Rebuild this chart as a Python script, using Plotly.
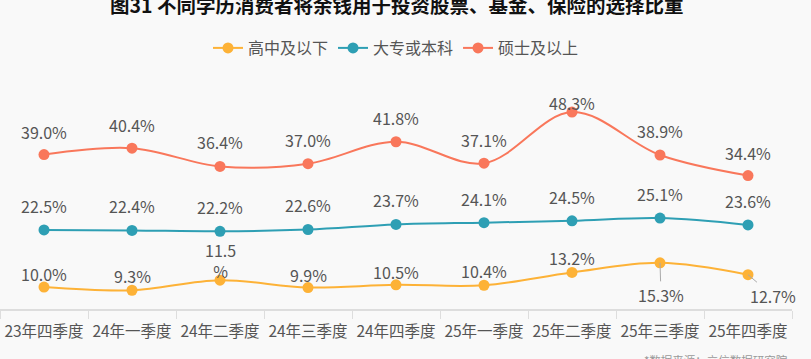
import plotly.graph_objects as go

categories = ["23年四季度", "24年一季度", "24年二季度", "24年三季度", "24年四季度",
              "25年一季度", "25年二季度", "25年三季度", "25年四季度"]
high_school = [10.0, 9.3, 11.5, 9.9, 10.5, 10.4, 13.2, 15.3, 12.7]
college = [22.5, 22.4, 22.2, 22.6, 23.7, 24.1, 24.5, 25.1, 23.6]
master = [39.0, 40.4, 36.4, 37.0, 41.8, 37.1, 48.3, 38.9, 34.4]

series_names = ["高中及以下", "大专或本科", "硕士及以上"]
colors = ["#FDB237", "#2E9FB4", "#F9775B"]

title = "图31 不同学历消费者将余钱用于投资股票、基金、保险的选择比重"
source = "*数据来源：立信数据研究院"

FONT = "Noto Sans CJK SC, Noto Sans, sans-serif"
TXT = "#555555"

fig = go.Figure()
for name, vals, col in zip(series_names, [high_school, college, master], colors):
    fig.add_trace(go.Scatter(
        x=categories, y=vals, name=name, mode="lines+markers",
        line=dict(color=col, width=2, shape="spline", smoothing=1.0),
        marker=dict(color=col, size=11),
        hoverinfo="skip", cliponaxis=False,
    ))

# label offsets (pixels) per point
hs_shift = [13, 14, 0, 13, 13, 14, 14, 0, 0]
col_shift = [24] * 9
ms_shift = [23, 23, 24, 24, 24, 23, 9, 24, 23]

annotations = []
lab_font = dict(family=FONT, size=16, color=TXT)

for i, (c, v) in enumerate(zip(categories, master)):
    annotations.append(dict(x=c, y=v, text=f"{v:.1f}%", showarrow=False,
                            yshift=ms_shift[i], font=lab_font))
for i, (c, v) in enumerate(zip(categories, college)):
    annotations.append(dict(x=c, y=v, text=f"{v:.1f}%", showarrow=False,
                            yshift=col_shift[i], font=lab_font))
for i, (c, v) in enumerate(zip(categories, high_school)):
    txt = f"{v:.1f}%"
    if i == 2:
        annotations.append(dict(x=c, y=v, text=f"{v:.1f}<br>%", showarrow=False,
                                yshift=20, font=lab_font))
    elif i == 7:
        annotations.append(dict(x=c, y=v, text=txt, showarrow=True, arrowhead=0,
                                arrowwidth=1, arrowcolor="#aaaaaa", ax=1, ay=32,
                                font=lab_font, standoff=0))
    elif i == 8:
        annotations.append(dict(x=c, y=v, text=txt, showarrow=True, arrowhead=0,
                                arrowwidth=1, arrowcolor="#aaaaaa", ax=25, ay=21,
                                font=lab_font, standoff=0))
    else:
        annotations.append(dict(x=c, y=v, text=txt, showarrow=False,
                                yshift=hs_shift[i], font=lab_font))

annotations.append(dict(xref="paper", yref="paper", x=0.5, y=1.0, yshift=99,
                        text=f"<b>{title}</b>", showarrow=False, yanchor="middle",
                        font=dict(family=FONT, size=19.5, color="#111111")))
annotations.append(dict(xref="paper", yref="paper", x=0.998, y=0.0, yshift=-41,
                        xanchor="right", yanchor="top", text=source, showarrow=False,
                        font=dict(family=FONT, size=11.5, color="#999999")))

fig.update_layout(
    width=811, height=359,
    margin=dict(l=0, r=19, t=103, b=50, autoexpand=False),
    paper_bgcolor="#F9F9F9", plot_bgcolor="#F9F9F9",
    font=dict(family=FONT, size=16, color=TXT),
    showlegend=True,
    legend=dict(orientation="h", x=0.5, xanchor="center", y=1.0 + 55 / 206, yanchor="middle",
                font=dict(family=FONT, size=16, color=TXT), bgcolor="rgba(0,0,0,0)",
                itemclick=False),
    annotations=annotations,
    hovermode=False,
)
fig.update_xaxes(type="category", range=[-0.5, 8.5], showgrid=False, zeroline=False,
                 showline=True, linecolor="#DDDDDD", linewidth=1.5,
                 ticks="outside", tickson="boundaries", ticklen=8, tickcolor="#DDDDDD",
                 tickangle=0, automargin=False, ticklabelstandoff=8,
                 tickfont=dict(family=FONT, size=15.5, color=TXT))
fig.update_yaxes(visible=False, range=[5.2, 50.28], showgrid=False, zeroline=False)

fig.write_html("out.html", config={"displayModeBar": False},
               post_script="document.body.style.margin='0';document.body.style.background='#F9F9F9';")
